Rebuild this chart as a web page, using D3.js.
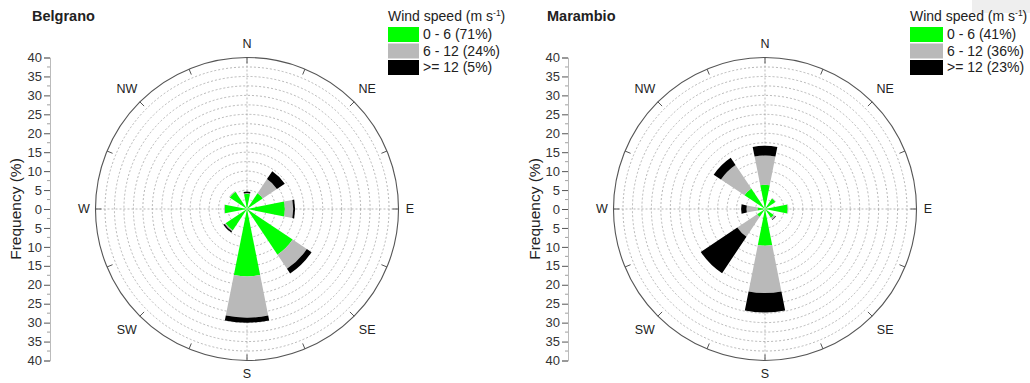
<!DOCTYPE html>
<html>
<head>
<meta charset="utf-8">
<script src="https://cdn.jsdelivr.net/npm/d3@7"></script>
<style>
  body { margin: 0; background: #fff; }
  svg { display: block; font-family: "Liberation Sans", Arial, sans-serif; }
</style>
</head>
<body>
<div id="chart"></div>
<script>
// directions, clockwise from north
var directions = ['N', 'NE', 'E', 'SE', 'S', 'SW', 'W', 'NW'];
var compassAngles = [0, 45, 90, 135, 180, 225, 270, 315];
var speedClasses = ['0 - 6', '6 - 12', '>= 12'];
var speedColors = ['#00ff00', '#b9b9b9', '#000000'];

// frequency (%) per direction and speed class
var belgranoLow  = [4.0, 5.0, 10.0, 14.5, 17.8, 6.8, 5.9, 5.5];
var belgranoMid  = [0.2, 4.5,  2.2,  4.5, 10.9, 0.3, 0.2, 0.2];
var belgranoHigh = [0.4, 2.5,  0.5,  1.5,  1.3, 0.4, 0.0, 0.0];
var belgranoShares = [71, 24, 5];

var marambioLow  = [6.4, 3.3, 6.0, 2.8,  9.7, 2.5, 2.0, 6.5];
var marambioMid  = [7.7, 0.2, 0.2, 0.5, 12.5, 6.3, 2.9, 7.5];
var marambioHigh = [2.6, 0.0, 0.0, 0.2,  5.1, 11.6, 1.4, 2.3];
var marambioShares = [41, 36, 23];

var axisTicks = [-40, -35, -30, -25, -20, -15, -10, -5, 0, 5, 10, 15, 20, 25, 30, 35, 40];

var width = 1030, height = 383;
var svg = d3.select("#chart").append("svg")
  .attr("width", width).attr("height", height);

// small grey patch in the top right corner of the original image
svg.append("rect").attr("x", 972).attr("y", 0).attr("width", 58).attr("height", 13)
  .attr("fill", "#eeeeee");

var R = 151.5;

function drawPanel(opt) {
  var cx = opt.cx, cy = opt.cy;
  var r = d3.scaleLinear().domain([0, 40]).range([0, R]);
  var g = svg.append("g");

  // title
  g.append("text").attr("x", opt.titleX).attr("y", 21)
    .attr("font-size", "14.5px").attr("font-weight", "bold").attr("fill", "#222")
    .text(opt.title);

  // frequency axis
  var y = d3.scaleLinear().domain([-40, 40]).range([cy + R, cy - R]);
  var axis = g.append("g").attr("transform", "translate(" + opt.axisX + ",0)")
    .call(d3.axisLeft(y).tickValues(axisTicks).tickSize(6).tickPadding(2)
      .tickFormat(function(d) { return Math.abs(d); }));
  axis.select(".domain").attr("stroke", "#bbb");
  axis.selectAll(".tick line").attr("stroke", "#555");
  axis.selectAll("text").attr("font-size", "13px").attr("fill", "#333")
    .attr("font-family", "Liberation Sans, Arial, sans-serif");
  // minor ticks
  var minor = d3.range(-37.5, 40, 5);
  g.selectAll(".minor").data(minor).enter().append("line")
    .attr("x1", opt.axisX - 3).attr("x2", opt.axisX)
    .attr("y1", function(d) { return y(d); }).attr("y2", function(d) { return y(d); })
    .attr("stroke", "#888").attr("stroke-width", 0.8);

  g.append("text")
    .attr("transform", "translate(" + opt.labelX + "," + cy + ") rotate(-90)")
    .attr("text-anchor", "middle").attr("dy", "0.35em")
    .attr("font-size", "15.5px").attr("fill", "#222")
    .text("Frequency (%)");

  var polar = g.append("g").attr("transform", "translate(" + cx + "," + cy + ")");

  // dashed grid circles
  polar.selectAll(".grid").data(d3.range(2.5, 40, 2.5)).enter().append("circle")
    .attr("r", function(d) { return r(d); })
    .attr("fill", "none").attr("stroke", "#999").attr("stroke-width", 0.7)
    .attr("stroke-dasharray", "2,2");
  // dashed cross
  polar.append("line").attr("x1", -R).attr("x2", R).attr("y1", 0).attr("y2", 0)
    .attr("stroke", "#999").attr("stroke-width", 0.7).attr("stroke-dasharray", "2,2");
  polar.append("line").attr("x1", 0).attr("x2", 0).attr("y1", -R).attr("y2", R)
    .attr("stroke", "#999").attr("stroke-width", 0.7).attr("stroke-dasharray", "2,2");

  // petals
  var arc = d3.arc();
  var series = [opt.low, opt.mid, opt.high];
  directions.forEach(function(dir, i) {
    var a = compassAngles[i] * Math.PI / 180;
    var half = 11.25 * Math.PI / 180;
    var base = 0;
    series.forEach(function(s, k) {
      var v = s[i];
      if (v <= 0) return;
      polar.append("path")
        .attr("d", arc({innerRadius: r(base), outerRadius: r(base + v),
          startAngle: a - half, endAngle: a + half}))
        .attr("fill", speedColors[k]);
      base += v;
    });
  });

  // outer circle and ticks
  polar.append("circle").attr("r", R).attr("fill", "none")
    .attr("stroke", "#555").attr("stroke-width", 1.1);
  polar.selectAll(".otick").data(d3.range(0, 360, 22.5)).enter().append("line")
    .attr("x1", function(d) { return Math.sin(d * Math.PI / 180) * R; })
    .attr("y1", function(d) { return -Math.cos(d * Math.PI / 180) * R; })
    .attr("x2", function(d) { return Math.sin(d * Math.PI / 180) * (R - 6); })
    .attr("y2", function(d) { return -Math.cos(d * Math.PI / 180) * (R - 6); })
    .attr("stroke", "#555").attr("stroke-width", 1);

  // compass labels
  polar.selectAll(".dir").data(directions).enter().append("text")
    .attr("x", function(d, i) { return Math.sin(compassAngles[i] * Math.PI / 180) * (i % 2 ? 170 : 163); })
    .attr("y", function(d, i) { return -Math.cos(compassAngles[i] * Math.PI / 180) * (i % 2 ? 170 : 165); })
    .attr("text-anchor", "middle").attr("dy", "0.35em")
    .attr("font-size", "12.5px").attr("fill", "#222")
    .text(function(d) { return d; });

  // legend
  var lg = g.append("g").attr("transform", "translate(" + opt.legendX + ",0)");
  var t = lg.append("text").attr("x", 0).attr("y", 21).attr("font-size", "14px").attr("fill", "#222");
  t.append("tspan").text("Wind speed (m s");
  t.append("tspan").attr("font-size", "8.5px").attr("dy", "-5").text("-1");
  t.append("tspan").attr("dy", "5").text(")");
  speedClasses.forEach(function(c, k) {
    lg.append("rect").attr("x", 0).attr("y", 27 + k * 16.5)
      .attr("width", opt.boxW).attr("height", 15).attr("fill", speedColors[k]);
    lg.append("text").attr("x", opt.boxW + 4).attr("y", 27 + k * 16.5 + 7.5)
      .attr("dy", "0.35em").attr("font-size", "14px").attr("fill", "#222")
      .text(c + " (" + opt.shares[k] + "%)");
  });
}

drawPanel({title: "Belgrano", titleX: 32, cx: 247, cy: 209, axisX: 50, labelX: 16,
  legendX: 388, boxW: 31, low: belgranoLow, mid: belgranoMid, high: belgranoHigh,
  shares: belgranoShares});
drawPanel({title: "Marambio", titleX: 547, cx: 765, cy: 209, axisX: 568, labelX: 535,
  legendX: 910, boxW: 33, low: marambioLow, mid: marambioMid, high: marambioHigh,
  shares: marambioShares});
</script>
</body>
</html>
